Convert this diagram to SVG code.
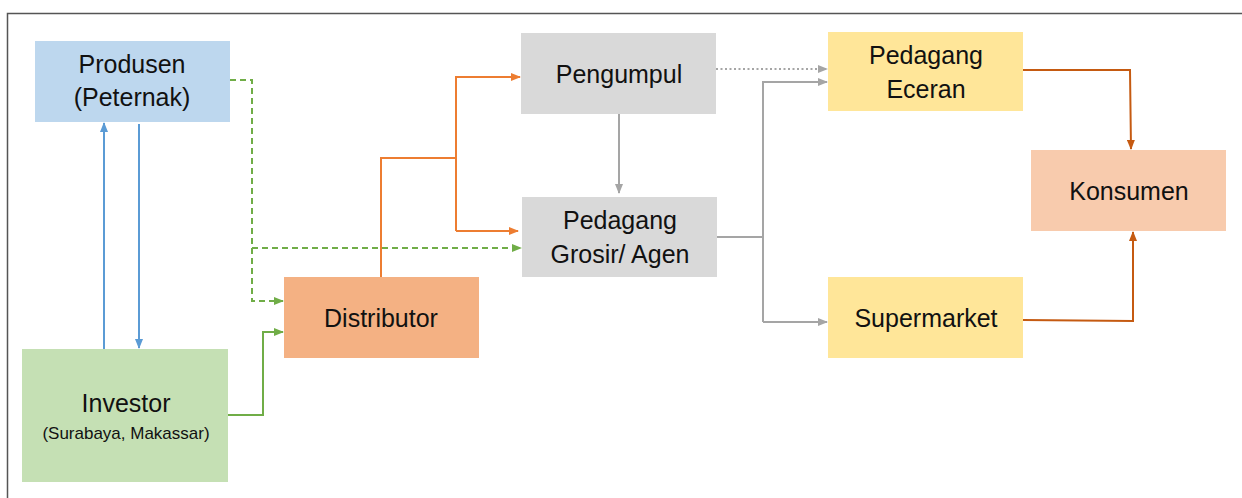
<svg xmlns="http://www.w3.org/2000/svg" width="1242" height="498" viewBox="0 0 1242 498">
<style>
.lbl{font-family:"Liberation Sans",Arial,sans-serif;font-size:25px;fill:#111;text-anchor:middle}
.sub{font-size:17px}
.c{fill:none;stroke-width:2}
.blue{stroke:#5B9BD5}
.green{stroke:#70AD47}
.dash{stroke-dasharray:6,4}
.orange{stroke:#ED7D31}
.gray{stroke:#A5A5A5}
.dot{stroke-dasharray:2,2.5}
.dor{stroke:#C55A11}
</style>
<defs>
<marker id="aB" markerUnits="userSpaceOnUse" markerWidth="10" markerHeight="8" refX="9" refY="4" orient="auto"><path d="M0,0L10,4L0,8z" fill="#5B9BD5"/></marker>
<marker id="aG" markerUnits="userSpaceOnUse" markerWidth="10" markerHeight="8" refX="9" refY="4" orient="auto"><path d="M0,0L10,4L0,8z" fill="#70AD47"/></marker>
<marker id="aO" markerUnits="userSpaceOnUse" markerWidth="10" markerHeight="8" refX="9" refY="4" orient="auto"><path d="M0,0L10,4L0,8z" fill="#ED7D31"/></marker>
<marker id="aY" markerUnits="userSpaceOnUse" markerWidth="10" markerHeight="8" refX="9" refY="4" orient="auto"><path d="M0,0L10,4L0,8z" fill="#A5A5A5"/></marker>
<marker id="aD" markerUnits="userSpaceOnUse" markerWidth="10" markerHeight="8" refX="9" refY="4" orient="auto"><path d="M0,0L10,4L0,8z" fill="#C55A11"/></marker>
</defs>
<rect width="1242" height="498" fill="#fff"/>
<path d="M7.5,498V13.5H1242" fill="none" stroke="#555" stroke-width="1.5"/>
<g id="nodes">
<g id="produsen"><rect x="35" y="41" width="195" height="81" fill="#BDD7EE"/><text class="lbl" x="132" y="73">Produsen</text><text class="lbl" x="132" y="106">(Peternak)</text></g>
<g id="investor"><rect x="22" y="349" width="206" height="133" fill="#C5E0B4"/><text class="lbl" x="126" y="412">Investor</text><text class="lbl sub" x="126" y="439">(Surabaya, Makassar)</text></g>
<g id="distributor"><rect x="284" y="277" width="195" height="81" fill="#F4B183"/><text class="lbl" x="381" y="327">Distributor</text></g>
<g id="pengumpul"><rect x="521" y="33" width="195" height="81" fill="#D9D9D9"/><text class="lbl" x="619" y="83">Pengumpul</text></g>
<g id="grosir"><rect x="522" y="197" width="195" height="80" fill="#D9D9D9"/><text class="lbl" x="620" y="229">Pedagang</text><text class="lbl" x="620" y="263">Grosir/ Agen</text></g>
<g id="eceran"><rect x="828" y="32" width="195" height="79" fill="#FFE699"/><text class="lbl" x="926" y="64">Pedagang</text><text class="lbl" x="926" y="98">Eceran</text></g>
<g id="supermarket"><rect x="828" y="277" width="195" height="81" fill="#FFE699"/><text class="lbl" x="926" y="327">Supermarket</text></g>
<g id="konsumen"><rect x="1031" y="150" width="195" height="81" fill="#F8CBAD"/><text class="lbl" x="1129" y="200">Konsumen</text></g>
</g>
<g id="connectors">
<path class="c blue" d="M104,349V123" marker-end="url(#aB)"/>
<path class="c blue" d="M139,124V348" marker-end="url(#aB)"/>
<path class="c green dash" d="M230,80H252V301H283" marker-end="url(#aG)"/>
<path class="c green dash" d="M252,248H521" marker-end="url(#aG)"/>
<path class="c green" d="M228,415H263V332H283" marker-end="url(#aG)"/>
<path class="c orange" d="M381,277V158H456"/>
<path class="c orange" d="M456,231V77H520" marker-end="url(#aO)"/>
<path class="c orange" d="M456,231H518" marker-end="url(#aO)"/>
<path class="c gray" d="M619,114V193" marker-end="url(#aY)"/>
<path class="c gray dot" d="M716,69H827" marker-end="url(#aY)"/>
<path class="c gray" d="M717,237H763"/>
<path class="c gray" d="M763,322V82H827" marker-end="url(#aY)"/>
<path class="c gray" d="M763,322H827" marker-end="url(#aY)"/>
<path class="c dor" d="M1023,70H1130L1131,149" marker-end="url(#aD)"/>
<path class="c dor" d="M1023,320L1133,321V232" marker-end="url(#aD)"/>
</g>
</svg>
